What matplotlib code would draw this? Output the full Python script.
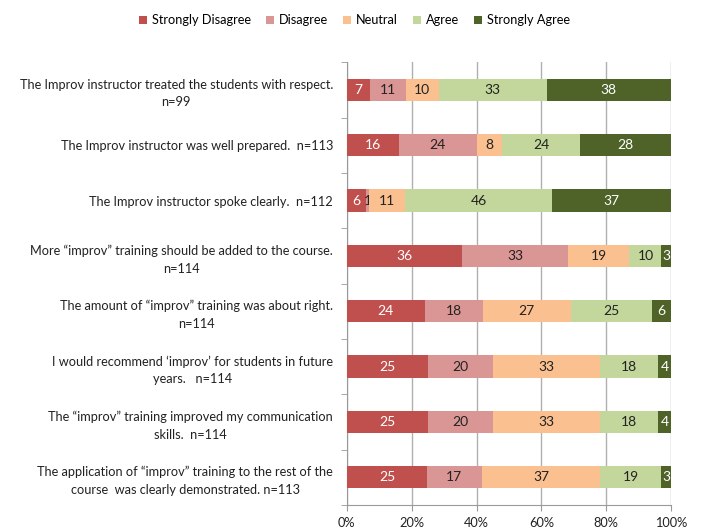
import matplotlib
matplotlib.use("Agg")
import matplotlib.pyplot as plt
import numpy as np

plt.rcParams["font.family"] = ["Lato", "DejaVu Sans"]

questions = [
    "The Improv instructor treated the students with respect.\nn=99",
    "The Improv instructor was well prepared.  n=113",
    "The Improv instructor spoke clearly.  n=112",
    "More \u201cimprov\u201d training should be added to the course.\nn=114",
    "The amount of \u201cimprov\u201d training was about right.\nn=114",
    "I would recommend \u2018improv\u2019 for students in future\nyears.   n=114",
    "The \u201cimprov\u201d training improved my communication\nskills.  n=114",
    "The application of \u201cimprov\u201d training to the rest of the\ncourse  was clearly demonstrated. n=113",
]
levels = ["Strongly Disagree", "Disagree", "Neutral", "Agree", "Strongly Agree"]
strongly_disagree = [7, 16, 6, 36, 24, 25, 25, 25]
disagree = [11, 24, 1, 33, 18, 20, 20, 17]
neutral = [10, 8, 11, 19, 27, 33, 33, 37]
agree = [33, 24, 46, 10, 25, 18, 18, 19]
strongly_agree = [38, 28, 37, 3, 6, 4, 4, 3]

colors = ["#C0504D", "#D99694", "#FAC090", "#C3D69B", "#4F6228"]
text_colors = ["white", "#222222", "#222222", "#222222", "white"]

series = np.array([strongly_disagree, disagree, neutral, agree, strongly_agree], dtype=float)
totals = series.sum(axis=0)
shares = series / totals * 100  # excel 100% stacked

FS = 9.2
fig = plt.figure(figsize=(7.02, 5.32), dpi=100)
ax = fig.add_axes([0.494, 0.051, 0.462, 0.832])

y = np.arange(len(questions))
left = np.zeros(len(questions))
for i, lvl in enumerate(levels):
    bars = ax.barh(y, shares[i], left=left, height=0.4, color=colors[i],
                   label=lvl, zorder=3)
    ax.bar_label(bars, labels=[f"{v:g}" for v in series[i]], label_type="center",
                 color=text_colors[i], fontsize=10)
    left += shares[i]

ax.set_xlim(0, 100)
ax.set_ylim(len(questions) - 0.5, -0.5)
ax.set_xticks(np.arange(0, 101, 20))
ax.set_xticklabels([f"{v}%" for v in range(0, 101, 20)], fontsize=FS, color="#222222")
ax.set_yticks(y)
ax.set_yticklabels(questions, fontsize=FS, color="#222222", multialignment="center",
                   linespacing=1.55)
ax.set_yticks(np.arange(-0.5, len(questions), 1), minor=True)
ax.tick_params(axis="y", which="major", length=0, pad=10)
ax.tick_params(axis="y", which="minor", length=4, color="#999999")
ax.tick_params(axis="x", length=4, color="#999999", pad=5)
ax.grid(axis="x", color="#b0b0b0", lw=1, zorder=0)
for s in ["top", "right"]:
    ax.spines[s].set_visible(False)
for s in ["left", "bottom"]:
    ax.spines[s].set_color("#999999")

fig.legend(loc="upper center", bbox_to_anchor=(0.505, 0.995), ncol=5, frameon=False,
           fontsize=FS, handlelength=0.6, handleheight=0.6, handletextpad=0.4,
           columnspacing=1.2)

fig.savefig("out.png", dpi=100, facecolor="white")
